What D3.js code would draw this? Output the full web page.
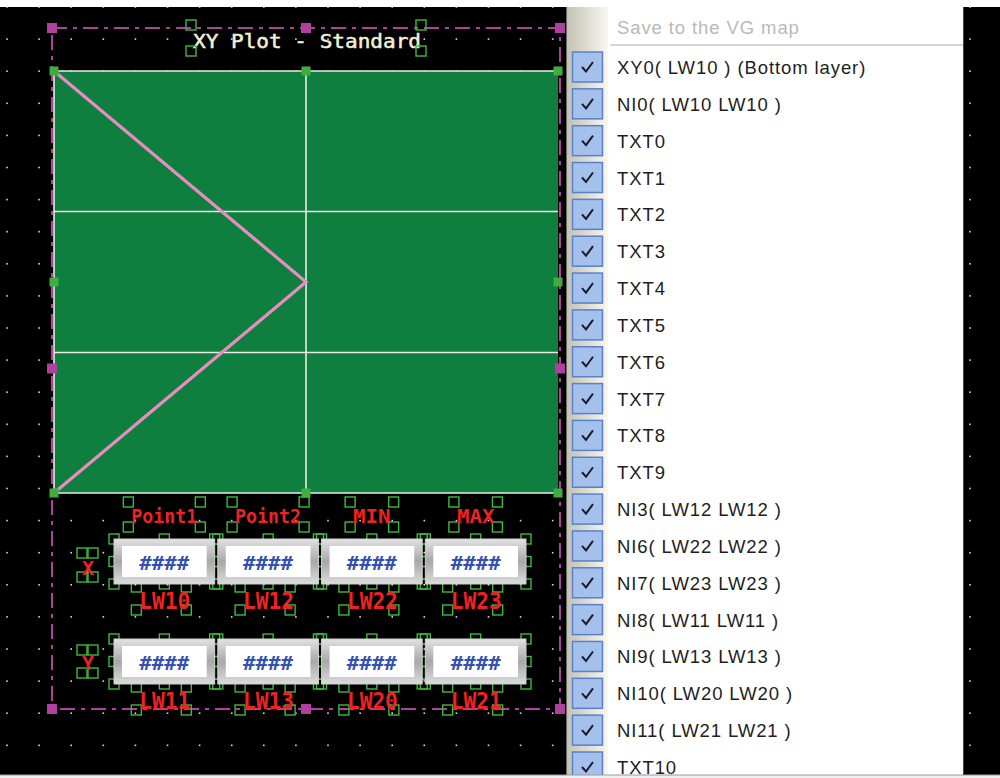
<!DOCTYPE html>
<html><head><meta charset="utf-8">
<script src="https://cdn.jsdelivr.net/npm/d3@7"></script>
<style>html,body{margin:0;padding:0;background:#000;overflow:hidden}</style>
</head><body>
<svg id="c" width="1000" height="778"></svg>
<script>
// ---- data ----
const title = "XY Plot - Standard";
const plotX = [0, 50, 0];          // XY plot points, x (0..100)
const plotY = [100, 50, 0];        // XY plot points, y (0..100)
const gridXTicks = [50];
const gridYTicks = [33.3, 66.7];
const columns = ["Point1", "Point2", "MIN", "MAX"];
const rowNames = ["X", "Y"];
const rowAddrX = ["LW10", "LW12", "LW22", "LW23"];
const rowAddrY = ["LW11", "LW13", "LW20", "LW21"];
const displayText = "####";
const menuHeader = "Save to the VG map";
const menuItems = ["XY0( LW10 ) (Bottom layer)", "NI0( LW10 LW10 )", "TXT0", "TXT1", "TXT2", "TXT3", "TXT4", "TXT5", "TXT6", "TXT7", "TXT8", "TXT9", "NI3( LW12 LW12 )", "NI6( LW22 LW22 )", "NI7( LW23 LW23 )", "NI8( LW11 LW11 )", "NI9( LW13 LW13 )", "NI10( LW20 LW20 )", "NI11( LW21 LW21 )", "TXT10"];

// ---- drawing ----
const svg = d3.select("#c");
const defs = svg.append("defs");
const g1 = defs.append("linearGradient").attr("id","gut").attr("x1",0).attr("x2",1);
g1.append("stop").attr("offset",0).attr("stop-color","#c4c2b4");
g1.append("stop").attr("offset",1).attr("stop-color","#f8f7f1");
const bev = defs.append("linearGradient").attr("id","bev").attr("x1",0).attr("x2",0).attr("y1",0).attr("y2",1);
bev.append("stop").attr("offset",0).attr("stop-color","#e2e2e2");
bev.append("stop").attr("offset",0.5).attr("stop-color","#a8a8a8");
bev.append("stop").attr("offset",1).attr("stop-color","#dcdcdc");

svg.append("rect").attr("width",1000).attr("height",778).attr("fill","#000");

// grid dots
const dots = [];
for (let x = 7; x < 1000; x += 32.1) for (let y = 7; y < 775; y += 32.1) dots.push([x, y]);
svg.append("g").selectAll("rect").data(dots).join("rect")
  .attr("x", d => d[0]-0.8).attr("y", d => d[1]-0.8).attr("width",1.6).attr("height",1.6).attr("fill","#d8d8d8");

// plot
const xs = d3.scaleLinear().domain([0,100]).range([54,558]);
const ys = d3.scaleLinear().domain([0,100]).range([493,71]);
svg.append("rect").attr("x",xs(0)).attr("y",ys(100)).attr("width",xs(100)-xs(0)).attr("height",ys(0)-ys(100)).attr("fill","#0e7f3e");
const gp = svg.append("g").attr("stroke","#ecece4").attr("stroke-width",1.6);
gp.selectAll(".gx").data(gridXTicks).join("line").attr("x1",d=>xs(d)).attr("x2",d=>xs(d)).attr("y1",ys(100)).attr("y2",ys(0));
gp.selectAll(".gy").data(gridYTicks).join("line").attr("y1",d=>ys(d)).attr("y2",d=>ys(d)).attr("x1",xs(0)).attr("x2",xs(100));
gp.append("line").attr("x1",xs(0)).attr("x2",xs(100)).attr("y1",ys(100)).attr("y2",ys(100));
gp.append("line").attr("x1",xs(0)).attr("x2",xs(100)).attr("y1",ys(0)).attr("y2",ys(0));
gp.append("line").attr("x1",xs(0)).attr("x2",xs(0)).attr("y1",ys(0)).attr("y2",ys(100));
const pts = plotX.map((x,i)=>[x, plotY[i]]);
svg.append("path").datum(pts).attr("d", d3.line().x(d=>xs(d[0])).y(d=>ys(d[1])))
  .attr("fill","none").attr("stroke","#ea8cc4").attr("stroke-width",3.2).attr("stroke-linejoin","miter");

// magenta dashed selection
const mx0=52, mx1=560, my0=28, my1=709;
svg.append("rect").attr("x",mx0).attr("y",my0).attr("width",mx1-mx0).attr("height",my1-my0)
  .attr("fill","none").attr("stroke","#b0409e").attr("stroke-width",2).attr("stroke-dasharray","15,6,4,6");
const mh = [[mx0,my0],[(mx0+mx1)/2,my0],[mx1,my0],[mx0,(my0+my1)/2],[mx1,(my0+my1)/2],[mx0,my1],[(mx0+mx1)/2,my1],[mx1,my1]];
svg.append("g").selectAll("rect").data(mh).join("rect").attr("x",d=>d[0]-5).attr("y",d=>d[1]-5).attr("width",10).attr("height",10).attr("fill","#b0409e");
// green plot handles
const ph = [[xs(0),ys(100)],[xs(50),ys(100)],[xs(100),ys(100)],[xs(0),ys(50)],[xs(100),ys(50)],[xs(0),ys(0)],[xs(50),ys(0)],[xs(100),ys(0)]];
svg.append("g").selectAll("rect").data(ph).join("rect").attr("x",d=>d[0]-4.5).attr("y",d=>d[1]-4.5).attr("width",9).attr("height",9).attr("fill","#3fae3f");

// title
svg.append("text").attr("x",193).attr("y",48).text(title)
  .attr("font-family","DejaVu Sans Mono").attr("font-size",19).attr("fill","#f2f0d6")
  .attr("stroke","#f2f0d6").attr("stroke-width",0.5)
  .attr("textLength",228).attr("lengthAdjust","spacingAndGlyphs");

const handles = svg.append("g").attr("fill","none").attr("stroke","#3dbb3d").attr("stroke-width",1.4);
function hnd(x,y){ handles.append("rect").attr("x",x-5).attr("y",y-5).attr("width",10).attr("height",10); }
hnd(191,25); hnd(191,51); hnd(421,25); hnd(421,51);

// columns
const bx = d3.scaleBand().domain(columns).range([114,526]).paddingInner(0.03);
const rowTop = {X:539, Y:639};
const redFont = "DejaVu Sans Mono";
// column headers
columns.forEach(c => {
  const cx = bx(c) + bx.bandwidth()/2;
  const w = c.length * (c.length > 3 ? 11 : 12.5);
  svg.append("text").attr("x",cx-w/2).attr("y",523).text(c).attr("font-family",redFont).attr("font-size",20)
    .attr("font-weight","bold").attr("fill","#ee2222").attr("textLength",w).attr("lengthAdjust","spacingAndGlyphs");
  hnd(cx-w/2-3,502); hnd(cx+w/2+3,502); hnd(cx-w/2-3,527); hnd(cx+w/2+3,527);
});
rowNames.forEach((r, ri) => {
  const top = rowTop[r], h = 45;
  const addr = ri === 0 ? rowAddrX : rowAddrY;
  // row label
  svg.append("text").attr("x",88).attr("y",top+(ri===0?36:31)).text(r).attr("text-anchor","middle")
    .attr("font-family",redFont).attr("font-size",20).attr("font-weight","bold").attr("fill","#ee2222");
  const ly0 = top+(ri===0?14:11), ly1 = top+(ri===0?38:34);
  hnd(82,ly0); hnd(93,ly0); hnd(82,ly1); hnd(93,ly1);
  columns.forEach((c, ci) => {
    const x = bx(c), w = bx.bandwidth();
    svg.append("rect").attr("x",x).attr("y",top).attr("width",w).attr("height",h).attr("fill","url(#bev)");
    svg.append("rect").attr("x",x).attr("y",top).attr("width",w).attr("height",h).attr("fill","none").attr("stroke","#cfcfcf").attr("stroke-width",1);
    svg.append("rect").attr("x",x+8).attr("y",top+7).attr("width",w-16).attr("height",h-14).attr("fill","#fff");
    svg.append("text").attr("x",x+w/2-25).attr("y",top+31).text(displayText).attr("font-family","DejaVu Sans Mono")
      .attr("font-weight","bold").attr("font-size",19).attr("fill","#3350b4").attr("textLength",50).attr("lengthAdjust","spacingAndGlyphs");
    [[x,top],[x+w/2,top],[x+w,top],[x,top+h/2],[x+w,top+h/2],[x,top+h],[x+w/2,top+h],[x+w,top+h]].forEach(p=>hnd(p[0],p[1]));
    // address label
    const cx = x + w/2;
    const base = top + h + 25;
    svg.append("text").attr("x",cx-25).attr("y",base).text(addr[ci]).attr("font-family",redFont).attr("font-size",23)
      .attr("font-weight","bold").attr("fill","#ee2222").attr("textLength",51).attr("lengthAdjust","spacingAndGlyphs");
    hnd(cx-28, top+h+3); hnd(cx+22, top+h+3); hnd(cx-28, base+1); hnd(cx+22, base+1);
  });
});

// right panel
svg.append("rect").attr("x",566).attr("y",0).attr("width",397).attr("height",778).attr("fill","#fff");
svg.append("rect").attr("x",567).attr("y",7).attr("width",41).attr("height",768).attr("fill","url(#gut)");
svg.append("line").attr("x1",566.5).attr("x2",566.5).attr("y1",7).attr("y2",775).attr("stroke","#6a6a6a");
svg.append("text").attr("x",617).attr("y",34).text(menuHeader).attr("font-family","Liberation Sans, Arial").attr("font-size",18.5)
  .attr("letter-spacing",0.9).attr("fill","#b9b9b9");
svg.append("line").attr("x1",610).attr("x2",963).attr("y1",45).attr("y2",45).attr("stroke","#c8c8c8").attr("stroke-width",1.5);
const my = d3.scaleLinear().domain([0, menuItems.length-1]).range([67, 767]);
const mi = svg.append("g").selectAll("g").data(menuItems).join("g").attr("transform",(d,i)=>`translate(0,${my(i)})`);
mi.append("rect").attr("x",572.5).attr("y",-15).attr("width",30).attr("height",30).attr("fill","#a4c0ec").attr("stroke","#5a80c6").attr("stroke-width",1.5);
mi.append("path").attr("d","M582,0 L586,4.5 L593,-5").attr("fill","none").attr("stroke","#1a1a2a").attr("stroke-width",2);
mi.append("text").attr("x",617).attr("y",7).text(d=>d).attr("font-family","Liberation Sans, Arial").attr("font-size",18.5)
  .attr("letter-spacing",0.9).attr("fill","#1e1e1e");

// top and bottom window strips
svg.append("rect").attr("x",0).attr("y",0).attr("width",1000).attr("height",7).attr("fill","#fff");
svg.append("rect").attr("x",0).attr("y",775).attr("width",1000).attr("height",3).attr("fill","#f0f0f0");
svg.append("line").attr("x1",0).attr("x2",1000).attr("y1",775).attr("y2",775).attr("stroke","#9a9a9a");
svg.append("line").attr("x1",963.5).attr("x2",963.5).attr("y1",7).attr("y2",775).attr("stroke","#444");
</script>
</body></html>
